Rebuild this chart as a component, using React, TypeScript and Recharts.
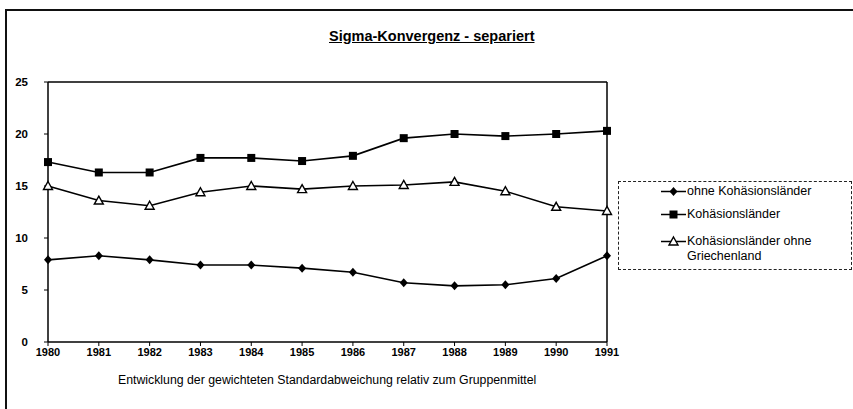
import React from "react";
import { LineChart, Line, XAxis, YAxis, ReferenceLine } from "recharts";

const years = ["1980", "1981", "1982", "1983", "1984", "1985", "1986", "1987", "1988", "1989", "1990", "1991"];
const ohneKohaesion = [7.9, 8.3, 7.9, 7.4, 7.4, 7.1, 6.7, 5.7, 5.4, 5.5, 6.1, 8.3];
const kohaesion = [17.3, 16.3, 16.3, 17.7, 17.7, 17.4, 17.9, 19.6, 20.0, 19.8, 20.0, 20.3];
const ohneGriechenland = [15.0, 13.6, 13.1, 14.4, 15.0, 14.7, 15.0, 15.1, 15.4, 14.5, 13.0, 12.6];
const yTicks = [0, 5, 10, 15, 20, 25];

const data = years.map((year, i) => ({
  year,
  ohne: ohneKohaesion[i],
  koh: kohaesion[i],
  griech: ohneGriechenland[i],
}));

const FONT = "'Liberation Sans', Arial, sans-serif";

function Diamond(props: any) {
  const { cx, cy } = props;
  if (cx == null || cy == null) return null;
  return <path d={`M${cx},${cy - 4.5} L${cx + 4},${cy} L${cx},${cy + 4.5} L${cx - 4},${cy} Z`} fill="#000" />;
}

function Square(props: any) {
  const { cx, cy } = props;
  if (cx == null || cy == null) return null;
  return <rect x={cx - 4} y={cy - 4} width={8} height={8} fill="#000" />;
}

function Triangle(props: any) {
  const { cx, cy } = props;
  if (cx == null || cy == null) return null;
  return (
    <path
      d={`M${cx},${cy - 4.5} L${cx + 4.5},${cy + 3.5} L${cx - 4.5},${cy + 3.5} Z`}
      fill="#fff"
      stroke="#000"
      strokeWidth={1.4}
    />
  );
}

const legendRows = [
  { label: "ohne Kohäsionsländer", Marker: Diamond },
  { label: "Kohäsionsländer", Marker: Square },
  { label: "Kohäsionsländer ohne\nGriechenland", Marker: Triangle },
];

function LegendBox() {
  return (
    <div
      style={{
        position: "absolute",
        left: 618,
        top: 181,
        width: 234,
        height: 89,
        border: "1px dashed #222",
        boxSizing: "border-box",
        fontFamily: FONT,
        fontSize: 12.5,
        color: "#000",
        paddingTop: 2,
      }}
    >
      {legendRows.map(({ label, Marker }, i) => (
        <div key={i} style={{ display: "flex", alignItems: "flex-start", marginBottom: i === 0 ? 8 : i === 1 ? 12 : 0 }}>
          <svg width={25} height={15} style={{ marginLeft: 42, marginRight: 1, flexShrink: 0 }}>
            <line x1={0} y1={7.5} x2={25} y2={7.5} stroke="#000" strokeWidth={1.5} />
            <Marker cx={12.5} cy={7.5} />
          </svg>
          <span style={{ whiteSpace: "pre-line", lineHeight: "15px" }}>{label}</span>
        </div>
      ))}
    </div>
  );
}

export default function App() {
  return (
    <div style={{ position: "absolute", left: 0, top: 0, width: 853, height: 409, background: "#fff", overflow: "hidden" }}>
      <div style={{ position: "absolute", left: 5, top: 9, width: 860, height: 420, borderLeft: "2px solid #111", borderTop: "2px solid #111" }} />
      <div
        style={{
          position: "absolute",
          left: 329,
          top: 28,
          fontFamily: FONT,
          fontWeight: "bold",
          fontSize: 14.5,
          textDecoration: "underline",
          whiteSpace: "nowrap",
        }}
      >
        Sigma-Konvergenz - separiert
      </div>
      <LineChart
        width={853}
        height={409}
        data={data}
        margin={{ top: 82, right: 246, bottom: 47, left: 10 }}
        style={{ position: "absolute", left: 0, top: 0 }}
      >
        <XAxis
          dataKey="year"
          tick={{ fontSize: 11, fill: "#000", fontFamily: FONT, fontWeight: "bold" }}
          tickLine={{ stroke: "#000" }}
          axisLine={{ stroke: "#000", strokeWidth: 1.5 }}
          tickSize={4}
          tickMargin={2}
          interval={0}
          height={20}
        />
        <YAxis
          domain={[0, 25]}
          ticks={yTicks}
          width={38}
          tick={{ fontSize: 11.5, fill: "#000", fontFamily: FONT, fontWeight: "bold" }}
          tickLine={{ stroke: "#000" }}
          axisLine={{ stroke: "#000", strokeWidth: 1.5 }}
          tickSize={4}
          tickMargin={16}
        />
        <ReferenceLine y={25} stroke="#000" strokeWidth={1.5} />
        <ReferenceLine x="1991" stroke="#000" strokeWidth={1.5} />
        <Line
          dataKey="ohne"
          name="ohne Kohäsionsländer"
          type="linear"
          stroke="#000"
          strokeWidth={1.6}
          dot={<Diamond />}
          isAnimationActive={false}
        />
        <Line
          dataKey="koh"
          name="Kohäsionsländer"
          type="linear"
          stroke="#000"
          strokeWidth={1.6}
          dot={<Square />}
          isAnimationActive={false}
        />
        <Line
          dataKey="griech"
          name="Kohäsionsländer ohne Griechenland"
          type="linear"
          stroke="#000"
          strokeWidth={1.6}
          dot={<Triangle />}
          isAnimationActive={false}
        />
      </LineChart>
      <LegendBox />
      <div
        style={{
          position: "absolute",
          left: 118,
          top: 373,
          fontFamily: FONT,
          fontSize: 12.3,
          color: "#000",
          whiteSpace: "nowrap",
        }}
      >
        Entwicklung der gewichteten Standardabweichung relativ zum Gruppenmittel
      </div>
    </div>
  );
}
